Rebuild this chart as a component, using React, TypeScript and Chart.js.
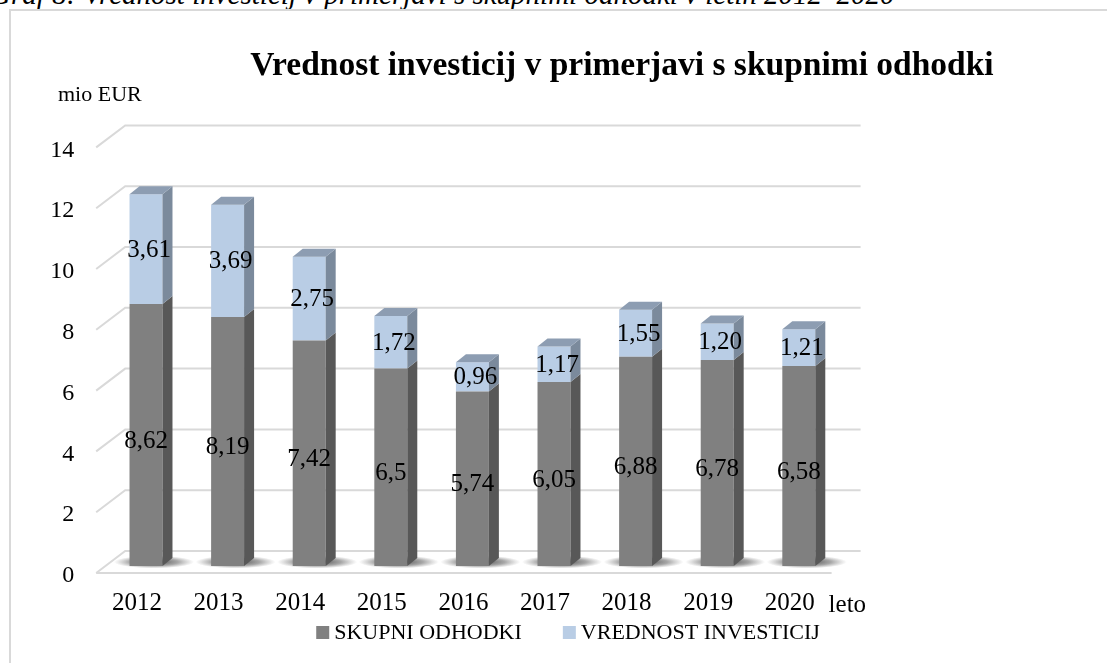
import React, { useEffect, useRef } from 'react';
import { Chart, registerables } from 'chart.js';

Chart.register(...registerables);

const years = ['2012', '2013', '2014', '2015', '2016', '2017', '2018', '2019', '2020'];
const skupniOdhodki = [8.62, 8.19, 7.42, 6.5, 5.74, 6.05, 6.88, 6.78, 6.58];
const vrednostInvesticij = [3.61, 3.69, 2.75, 1.72, 0.96, 1.17, 1.55, 1.2, 1.21];
const skupniLabels = ['8,62', '8,19', '7,42', '6,5', '5,74', '6,05', '6,88', '6,78', '6,58'];
const investLabels = ['3,61', '3,69', '2,75', '1,72', '0,96', '1,17', '1,55', '1,20', '1,21'];
const seriesNames = ['SKUPNI ODHODKI', 'VREDNOST INVESTICIJ'];
const yTicks = [0, 2, 4, 6, 8, 10, 12, 14];

const TITLE = 'Vrednost investicij v primerjavi s skupnimi odhodki';
const UNIT = 'mio EUR';
const XUNIT = 'leto';
const CAPTION = 'Graf 8: Vrednost investicij v primerjavi s skupnimi odhodki v letih 2012–2020';

const SERIF = '"Liberation Serif", "Times New Roman", serif';
const FRONT = ['#808080', '#b9cde5'];
const SIDE = ['#585858', '#7b8a9c'];
const TOP = ['#6a6a6a', '#8d9db2'];
const DX = 10;
const DY = 8;
const WALL_DX = 29;
const WALL_DY = 22;

const threeD = {
  id: 'threeD',
  beforeDatasetsDraw(chart: any) {
    const ctx = chart.ctx;
    const ys = chart.scales.y;
    const ca = chart.chartArea;
    const fl = ca.left - 9;
    const bl = fl + WALL_DX;
    const br = ca.right + 21;
    const fr = br - WALL_DX;
    ctx.save();
    ctx.strokeStyle = '#d9d9d9';
    ctx.lineWidth = 2;
    yTicks.forEach((v) => {
      const p = ys.getPixelForValue(v);
      const fy = p + 7;
      const by = fy - WALL_DY;
      ctx.beginPath();
      ctx.moveTo(fl, fy);
      ctx.lineTo(bl, by);
      ctx.lineTo(br, by);
      ctx.stroke();
      if (v === 0) {
        ctx.beginPath();
        ctx.moveTo(fl, fy);
        ctx.lineTo(fr, fy);
        ctx.stroke();
      }
    });
    const meta = chart.getDatasetMeta(0);
    meta.data.forEach((el: any) => {
      const { x, base } = el.getProps(['x', 'base'], true);
      const cx = x + 8;
      const cy = base - 4;
      ctx.save();
      ctx.translate(cx, cy);
      ctx.scale(1, 0.16);
      const g = ctx.createRadialGradient(0, 0, 0, 0, 0, 40);
      g.addColorStop(0, 'rgba(40,40,40,0.85)');
      g.addColorStop(0.6, 'rgba(60,60,60,0.45)');
      g.addColorStop(1, 'rgba(90,90,90,0)');
      ctx.fillStyle = g;
      ctx.beginPath();
      ctx.arc(0, 0, 40, 0, Math.PI * 2);
      ctx.fill();
      ctx.restore();
    });
    ctx.restore();
  },
  afterDatasetsDraw(chart: any) {
    const ctx = chart.ctx;
    const n = chart.data.datasets.length;
    ctx.save();
    for (let d = 0; d < n; d++) {
      const meta = chart.getDatasetMeta(d);
      meta.data.forEach((el: any) => {
        const { x, y, base, width } = el.getProps(['x', 'y', 'base', 'width'], true);
        const r = x + width / 2;
        const l = x - width / 2;
        ctx.fillStyle = SIDE[d];
        ctx.beginPath();
        ctx.moveTo(r, y);
        ctx.lineTo(r + DX, y - DY);
        ctx.lineTo(r + DX, base - DY);
        ctx.lineTo(r, base);
        ctx.closePath();
        ctx.fill();
        if (d === n - 1) {
          ctx.fillStyle = TOP[d];
          ctx.beginPath();
          ctx.moveTo(l, y);
          ctx.lineTo(l + DX, y - DY);
          ctx.lineTo(r + DX, y - DY);
          ctx.lineTo(r, y);
          ctx.closePath();
          ctx.fill();
        }
      });
    }
    ctx.fillStyle = '#000';
    ctx.font = `25px ${SERIF}`;
    ctx.textAlign = 'center';
    ctx.textBaseline = 'middle';
    const labelSets = [skupniLabels, investLabels];
    for (let d = 0; d < n; d++) {
      const meta = chart.getDatasetMeta(d);
      meta.data.forEach((el: any, i: number) => {
        const { x, y, base } = el.getProps(['x', 'y', 'base'], true);
        const off = d === 0 ? 6 : 1;
        ctx.fillText(labelSets[d][i], x + (d === 0 ? 0 : 3), (y + base) / 2 + off);
      });
    }
    ctx.restore();
  },
  afterDraw(chart: any) {
    const ctx = chart.ctx;
    const ca = chart.chartArea;
    ctx.save();
    ctx.fillStyle = '#000';
    ctx.font = `bold 33.5px ${SERIF}`;
    ctx.textAlign = 'center';
    ctx.textBaseline = 'alphabetic';
    ctx.fillText(TITLE, 622, 75);
    ctx.font = `22px ${SERIF}`;
    ctx.textAlign = 'left';
    ctx.fillText(UNIT, 58, 101);
    ctx.font = `25px ${SERIF}`;
    ctx.fillText(XUNIT, ca.right - 11, 612);
    ctx.font = `22px ${SERIF}`;
    ctx.textBaseline = 'middle';
    const box = 13;
    const gapBox = 5;
    const gapItem = 41;
    const widths = seriesNames.map((s) => ctx.measureText(s).width);
    const total = widths.reduce((a, w) => a + box + gapBox + w, 0) + gapItem * (seriesNames.length - 1);
    let lx = 568 - total / 2;
    const ly = 633;
    seriesNames.forEach((s, i) => {
      ctx.fillStyle = FRONT[i];
      ctx.fillRect(lx, ly - 7, box, box);
      ctx.fillStyle = '#000';
      ctx.fillText(s, lx + box + gapBox, ly);
      lx += box + gapBox + widths[i] + gapItem;
    });
    ctx.restore();
  },
};

export default function App() {
  const ref = useRef<HTMLCanvasElement | null>(null);
  useEffect(() => {
    if (!ref.current) return;
    const chart = new Chart(ref.current, {
      type: 'bar',
      data: {
        labels: years,
        datasets: [
          {
            label: seriesNames[0],
            data: skupniOdhodki,
            backgroundColor: FRONT[0],
            borderWidth: 0,
            categoryPercentage: 1,
            barPercentage: 0.404,
          },
          {
            label: seriesNames[1],
            data: vrednostInvesticij,
            backgroundColor: FRONT[1],
            borderWidth: 0,
            categoryPercentage: 1,
            barPercentage: 0.404,
          },
        ],
      },
      options: {
        responsive: false,
        animation: false,
        devicePixelRatio: 1,
        layout: { padding: { left: 0, right: 267.4, top: 140.4, bottom: 27 } },
        plugins: {
          legend: { display: false },
          title: { display: false },
          tooltip: { enabled: false },
        },
        scales: {
          x: {
            stacked: true,
            grid: { display: false, drawTicks: false },
            border: { display: false },
            ticks: {
              color: '#000',
              font: { family: SERIF, size: 25 },
              padding: 22,
              labelOffset: -9,
              maxRotation: 0,
            },
            afterFit: (s: any) => {
              s.height = 70;
            },
          },
          y: {
            stacked: true,
            min: 0,
            max: 14,
            grid: { display: false, drawTicks: false },
            border: { display: false },
            ticks: {
              stepSize: 2,
              color: '#000',
              font: { family: SERIF, size: 24 },
              padding: 31,
              labelOffset: 10,
            },
            afterFit: (s: any) => {
              s.width = 105.2;
            },
          },
        },
      },
      plugins: [threeD],
    });
    return () => chart.destroy();
  }, []);

  return (
    <div
      style={{
        position: 'fixed',
        left: 0,
        top: 0,
        width: 1107,
        height: 663,
        overflow: 'hidden',
        background: '#fff',
      }}
    >
      <div
        style={{
          position: 'absolute',
          left: -10,
          top: -20,
          fontFamily: SERIF,
          fontStyle: 'italic',
          fontSize: 29,
          lineHeight: '29px',
          whiteSpace: 'nowrap',
          color: '#000',
        }}
      >
        {CAPTION}
      </div>
      <div
        style={{
          position: 'absolute',
          left: 9,
          top: 9,
          width: 1200,
          height: 700,
          border: '2px solid #d9d9d9',
        }}
      />
      <canvas
        ref={ref}
        width={1107}
        height={663}
        style={{ position: 'absolute', left: 0, top: 0, width: 1107, height: 663 }}
      />
    </div>
  );
}
